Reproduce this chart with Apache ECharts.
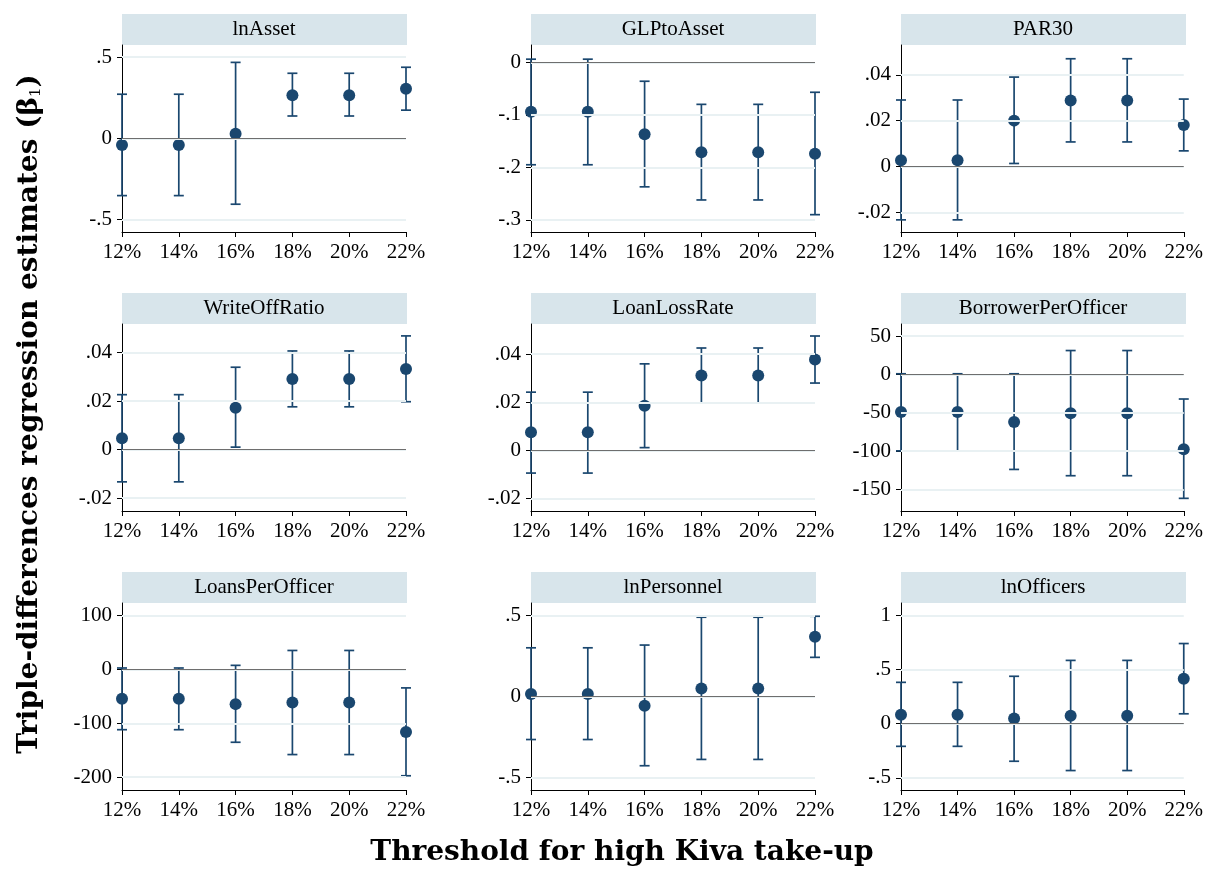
<!DOCTYPE html>
<html>
<head>
<meta charset="utf-8">
<script src="https://cdn.jsdelivr.net/npm/echarts@6/dist/echarts.min.js"></script>
<style>
  html, body { margin: 0; padding: 0; background: #fff; }
  #chart { width: 1206px; height: 869px; }
</style>
</head>
<body>
<div id="chart"></div>
<script>
// thresholds (x axis)
const thresholds = [12, 14, 16, 18, 20, 22];
const panelNames = ['lnAsset', 'GLPtoAsset', 'PAR30', 'WriteOffRatio', 'LoanLossRate',
  'BorrowerPerOfficer', 'LoansPerOfficer', 'lnPersonnel', 'lnOfficers'];

// point estimates and 95% CI bounds per outcome
const lnAssetEst = [-0.041, -0.041, 0.028, 0.265, 0.265, 0.304];
const lnAssetLo  = [-0.353, -0.353, -0.406, 0.137, 0.137, 0.173];
const lnAssetHi  = [0.271, 0.271, 0.467, 0.400, 0.400, 0.437];
const lnAssetTicks = [-0.5, 0, 0.5];
const lnAssetRange = [-0.577, 0.574];

const glpEst = [-0.094, -0.094, -0.137, -0.171, -0.171, -0.174];
const glpLo  = [-0.195, -0.195, -0.237, -0.262, -0.262, -0.290];
const glpHi  = [0.006, 0.006, -0.036, -0.080, -0.080, -0.057];
const glpTicks = [-0.3, -0.2, -0.1, 0];
const glpRange = [-0.323, 0.033];

const par30Est = [0.0027, 0.0027, 0.0200, 0.0288, 0.0288, 0.0181];
const par30Lo  = [-0.0233, -0.0233, 0.0013, 0.0107, 0.0107, 0.0068];
const par30Hi  = [0.0290, 0.0290, 0.0390, 0.0470, 0.0470, 0.0294];
const par30Ticks = [-0.02, 0, 0.02, 0.04];
const par30Range = [-0.0286, 0.053];

const writeOffEst = [0.0047, 0.0047, 0.0172, 0.0291, 0.0291, 0.0332];
const writeOffLo  = [-0.0133, -0.0133, 0.0010, 0.0176, 0.0176, 0.0197];
const writeOffHi  = [0.0226, 0.0226, 0.0339, 0.0406, 0.0406, 0.0468];
const writeOffTicks = [-0.02, 0, 0.02, 0.04];
const writeOffRange = [-0.0253, 0.0517];

const lossEst = [0.0075, 0.0075, 0.0185, 0.0311, 0.0311, 0.0378];
const lossLo  = [-0.0095, -0.0095, 0.0011, 0.0197, 0.0197, 0.0280];
const lossHi  = [0.0242, 0.0242, 0.0360, 0.0426, 0.0426, 0.0476];
const lossTicks = [-0.02, 0, 0.02, 0.04];
const lossRange = [-0.0253, 0.0526];

const borrowerEst = [-48.9, -48.9, -61.9, -50.6, -50.6, -97.4];
const borrowerLo  = [-99.6, -99.6, -123.8, -132, -132, -161.5];
const borrowerHi  = [0.9, 0.9, 0.9, 31.2, 31.2, -32];
const borrowerTicks = [-150, -100, -50, 0, 50];
const borrowerRange = [-178, 65.8];

const loansEst = [-54.7, -54.7, -64.5, -61.5, -61.5, -116.2];
const loansLo  = [-111.9, -111.9, -135.2, -158, -158, -197.3];
const loansHi  = [2.5, 2.5, 7.4, 35, 35, -34.4];
const loansTicks = [-200, -100, 0, 100];
const loansRange = [-223.7, 123];

const personnelEst = [0.016, 0.016, -0.057, 0.049, 0.049, 0.369];
const personnelLo  = [-0.266, -0.266, -0.428, -0.389, -0.389, 0.242];
const personnelHi  = [0.301, 0.301, 0.318, 0.490, 0.490, 0.496];
const personnelTicks = [-0.5, 0, 0.5];
const personnelRange = [-0.578, 0.578];

const officersEst = [0.083, 0.083, 0.049, 0.074, 0.074, 0.417];
const officersLo  = [-0.209, -0.209, -0.347, -0.433, -0.433, 0.092];
const officersHi  = [0.383, 0.383, 0.439, 0.586, 0.586, 0.742];
const officersTicks = [-0.5, 0, 0.5, 1];
const officersRange = [-0.613, 1.117];

const panels = [
  [lnAssetEst, lnAssetLo, lnAssetHi, lnAssetTicks, lnAssetRange],
  [glpEst, glpLo, glpHi, glpTicks, glpRange],
  [par30Est, par30Lo, par30Hi, par30Ticks, par30Range],
  [writeOffEst, writeOffLo, writeOffHi, writeOffTicks, writeOffRange],
  [lossEst, lossLo, lossHi, lossTicks, lossRange],
  [borrowerEst, borrowerLo, borrowerHi, borrowerTicks, borrowerRange],
  [loansEst, loansLo, loansHi, loansTicks, loansRange],
  [personnelEst, personnelLo, personnelHi, personnelTicks, personnelRange],
  [officersEst, officersLo, officersHi, officersTicks, officersRange]
];

const navy = '#1a476f';
const serif = '"Liberation Serif", "DejaVu Serif", serif';
const colLeft = [122, 531, 901];
const rowTop = [45, 324, 603];
const plotW = 284, plotH = 187, stripH = 31;

// stata style labels: .5, -.02
function fmt(v) {
  return String(v).replace('0.', '.');
}

let grid = [], xAxis = [], yAxis = [], series = [], graphic = [];

panels.forEach((p, i) => {
  const [est, lo, hi, ticks, range] = p;
  const left = colLeft[i % 3], top = rowTop[Math.floor(i / 3)];
  grid.push({ left: left, top: top, width: plotW, height: plotH });
  xAxis.push({
    type: 'value', gridIndex: i, min: 12, max: 22, interval: 2,
    axisLine: { onZero: false, lineStyle: { color: '#000', width: 1 } },
    axisTick: { show: true, length: 5, lineStyle: { color: '#000' } },
    axisLabel: { formatter: '{value}%', fontFamily: serif, fontSize: 21, color: '#000', margin: 10,
      showMinLabel: true, showMaxLabel: true, hideOverlap: false },
    splitLine: { show: false }
  });
  yAxis.push({
    type: 'value', gridIndex: i, min: range[0], max: range[1],
    axisLine: { show: true, onZero: false, lineStyle: { color: '#000', width: 1 } },
    axisTick: { show: true, length: 5, customValues: ticks, lineStyle: { color: '#000' } },
    axisLabel: { customValues: ticks, formatter: fmt, fontFamily: serif, fontSize: 21, color: '#000', margin: 10 },
    splitLine: { show: false }
  });
  // gridlines and zero line
  series.push({
    type: 'scatter', xAxisIndex: i, yAxisIndex: i, data: [], z: 1, silent: true,
    markLine: {
      silent: true, symbol: 'none', label: { show: false }, animation: false,
      data: ticks.map(v => ({ yAxis: v, lineStyle: { color: '#e9f1f3', width: 2, type: 'solid' } }))
        .concat([{ yAxis: 0, lineStyle: { color: '#6e6e6e', width: 1.2, type: 'solid' } }])
    }
  });
  // confidence interval bars
  series.push({
    type: 'custom', xAxisIndex: i, yAxisIndex: i, z: 3,
    data: thresholds.map((t, k) => [t, lo[k], hi[k]]),
    encode: { x: 0, y: [1, 2] },
    renderItem: function (params, api) {
      const a = api.coord([api.value(0), api.value(1)]);
      const b = api.coord([api.value(0), api.value(2)]);
      const w = 5;
      const st = { stroke: navy, lineWidth: 1.7 };
      return {
        type: 'group', children: [
          { type: 'line', shape: { x1: a[0], y1: a[1], x2: b[0], y2: b[1] }, style: st },
          { type: 'line', shape: { x1: a[0] - w, y1: a[1], x2: a[0] + w, y2: a[1] }, style: st },
          { type: 'line', shape: { x1: b[0] - w, y1: b[1], x2: b[0] + w, y2: b[1] }, style: st }
        ]
      };
    }
  });
  series.push({
    type: 'scatter', xAxisIndex: i, yAxisIndex: i, z: 4,
    symbol: 'circle', symbolSize: 12, itemStyle: { color: navy, opacity: 1 },
    data: thresholds.map((t, k) => [t, est[k]])
  });
  // panel header strip
  graphic.push({
    type: 'group', left: left, top: top - stripH, children: [
      { type: 'rect', shape: { x: 0, y: 0, width: plotW + 1, height: stripH }, style: { fill: '#d8e5eb' } },
      { type: 'text', x: plotW / 2, y: stripH / 2, style: {
        text: panelNames[i], font: '21px ' + serif, fill: '#000', align: 'center', verticalAlign: 'middle' } }
    ]
  });
});

graphic.push({
  type: 'text', x: 622, y: 853,
  style: { text: 'Threshold for high Kiva take-up', font: 'bold 28px "DejaVu Serif", serif',
    fill: '#000', align: 'center', verticalAlign: 'middle' }
});
graphic.push({
  type: 'text', x: 30, y: 414, rotation: Math.PI / 2,
  style: {
    text: 'Triple-differences regression estimates (β{sub|1})',
    font: 'bold 28px "DejaVu Serif", serif', fill: '#000', align: 'center', verticalAlign: 'middle',
    rich: { sub: { fontSize: 15, fontFamily: '"DejaVu Serif", serif', fontWeight: 'normal', verticalAlign: 'bottom', padding: [12, 0, 0, 0] } }
  }
});

const myChart = echarts.init(document.getElementById('chart'));
myChart.setOption({
  animation: false,
  backgroundColor: '#fff',
  grid: grid,
  xAxis: xAxis,
  yAxis: yAxis,
  series: series,
  graphic: graphic
});
</script>
</body>
</html>
